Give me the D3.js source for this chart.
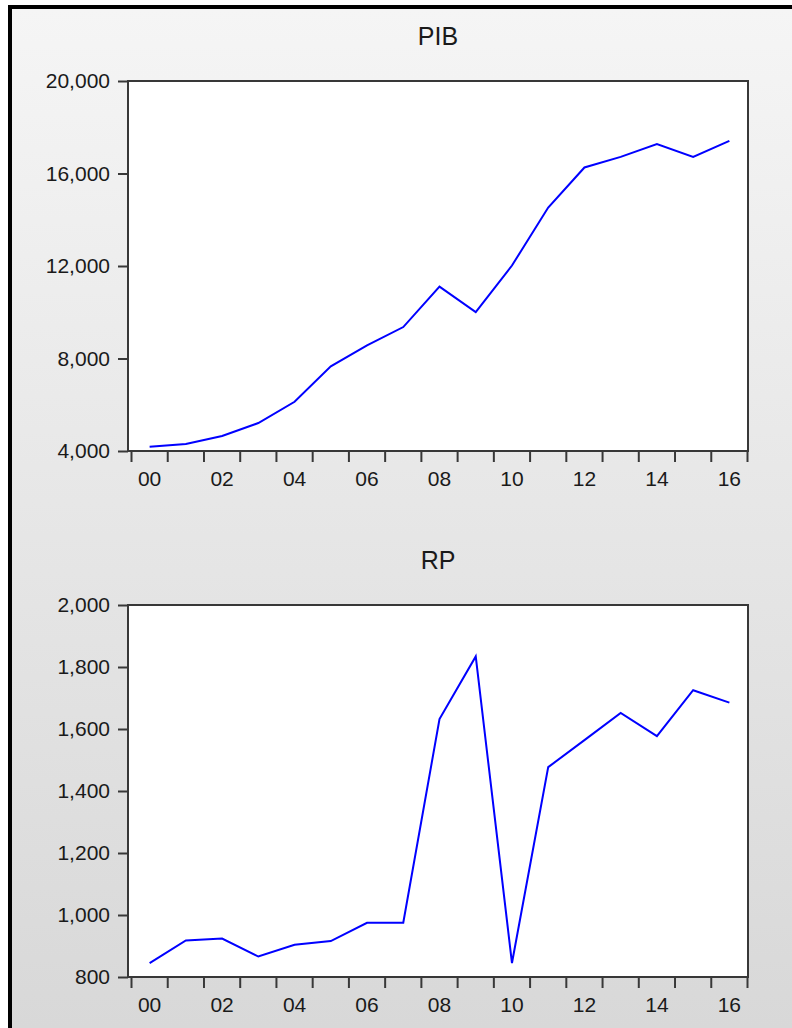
<!DOCTYPE html>
<head>
  <meta charset="utf-8">
  <script src="https://d3js.org/d3.v7.min.js"></script>
  <style>
    body { margin:0; background:#fff; }
    text { font-family: "Liberation Sans", Arial, sans-serif; fill: #1a1a1a; }
    .frame { fill: #fff; stroke: #383838; stroke-width: 2px; }
    .tick line, .domain { stroke: #383838; stroke-width: 2px; }
    .series { fill: none; stroke: #0000ff; stroke-width: 2px; }
  </style>
</head>

<body>
  <script>
    var years = ["00","01","02","03","04","05","06","07","08","09","10","11","12","13","14","15","16"];
    var yearLabels = ["00","02","04","06","08","10","12","14","16"];

    var pib = [4180, 4300, 4650, 5210, 6130, 7660, 8570, 9360, 11110, 10010,
               12020, 14530, 16260, 16720, 17270, 16720, 17410];
    var rp = [845, 918, 924, 866, 904, 916, 975, 975, 1632, 1834,
              845, 1477, 1564, 1652, 1577, 1725, 1685];

    var pibTicks = [4000, 8000, 12000, 16000, 20000];
    var rpTicks = [800, 1000, 1200, 1400, 1600, 1800, 2000];

    var width = 792, height = 1028;
    var svg = d3.select("body").append("svg")
      .attr("width", width)
      .attr("height", height);

    // grey panel with black border on left/top
    var grad = svg.append("defs").append("linearGradient")
      .attr("id", "bg").attr("x1", 0).attr("y1", 0).attr("x2", 0).attr("y2", 1);
    grad.append("stop").attr("offset", "0%").attr("stop-color", "#f5f5f5");
    grad.append("stop").attr("offset", "100%").attr("stop-color", "#d8d8d8");

    svg.append("rect").attr("x", 8).attr("y", 5)
      .attr("width", width - 8).attr("height", height - 5).attr("fill", "#000");
    svg.append("rect").attr("x", 12).attr("y", 9)
      .attr("width", width - 12).attr("height", height - 9).attr("fill", "url(#bg)");

    var left = 128, right = 748;
    var xScale = d3.scaleBand()
      .domain(years)
      .range([131.5, 747.5]);

    var fmt = d3.format(",");

    function panel(title, values, ticks, top, bottom) {
      var yScale = d3.scaleLinear()
        .domain([ticks[0], ticks[ticks.length - 1]])
        .range([bottom, top]);

      var g = svg.append("g");

      g.append("rect").attr("class", "frame")
        .attr("x", left).attr("y", top)
        .attr("width", right - left).attr("height", bottom - top);

      g.append("text")
        .attr("x", (left + right) / 2).attr("y", top - 36)
        .attr("text-anchor", "middle")
        .style("font-size", "25px")
        .text(title);

      // y axis
      var yAxis = d3.axisLeft(yScale)
        .tickValues(ticks)
        .tickSize(10)
        .tickPadding(8)
        .tickFormat(fmt);
      var ya = g.append("g").attr("transform", "translate(" + left + ",0)").call(yAxis);
      ya.select(".domain").remove();
      ya.selectAll("text").style("font-size", "21px");

      // x axis: ticks on year boundaries, labels centred on even years
      var bounds = years.map(function(d) { return xScale(d); });
      bounds.push(xScale.range()[1]);
      var xa = g.append("g");
      xa.selectAll("line").data(bounds).enter().append("line")
        .attr("x1", function(d) { return d; })
        .attr("x2", function(d) { return d; })
        .attr("y1", bottom)
        .attr("y2", bottom + 11)
        .attr("stroke", "#383838").attr("stroke-width", 2);
      xa.selectAll("text").data(yearLabels).enter().append("text")
        .attr("x", function(d) { return xScale(d) + xScale.bandwidth() / 2; })
        .attr("y", bottom + 35)
        .attr("text-anchor", "middle")
        .style("font-size", "21px")
        .text(function(d) { return d; });

      var line = d3.line()
        .x(function(d, i) { return xScale(years[i]) + xScale.bandwidth() / 2; })
        .y(function(d) { return yScale(d); });

      g.append("path").datum(values).attr("class", "series").attr("d", line);

      // redraw frame stroke on top
      g.append("rect")
        .attr("x", left).attr("y", top)
        .attr("width", right - left).attr("height", bottom - top)
        .attr("fill", "none").attr("stroke", "#383838").attr("stroke-width", 2);
    }

    panel("PIB", pib, pibTicks, 81, 451);
    panel("RP", rp, rpTicks, 605, 977);
  </script>
</body>
